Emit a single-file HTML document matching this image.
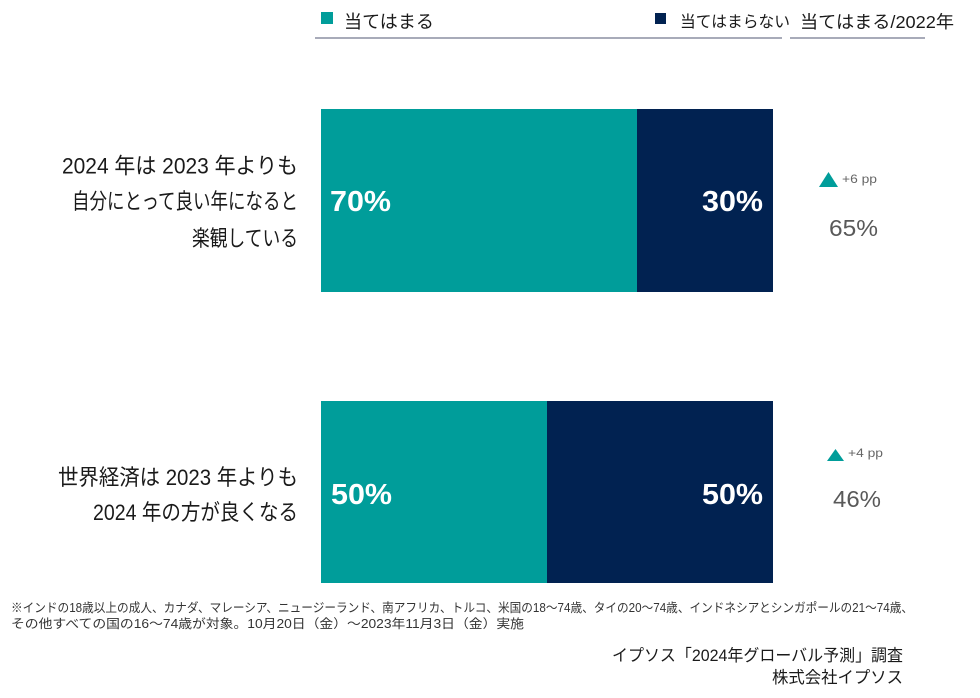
<!DOCTYPE html>
<html>
<head>
<meta charset="utf-8">
<style>
  html, body { margin:0; padding:0; background:#ffffff; }
  svg { display:block; }
  text { font-family: "Liberation Sans", "Noto Sans CJK JP", sans-serif; }
</style>
</head>
<body>
<svg width="980" height="698" viewBox="0 0 980 698" xmlns="http://www.w3.org/2000/svg">
  <rect x="0" y="0" width="980" height="698" fill="#ffffff"/>

  <!-- Legend -->
  <rect x="321" y="12" width="12" height="12" fill="#009d9a"/>
  <text x="344" y="28" font-size="18" fill="#1a1a1a" textLength="90" lengthAdjust="spacingAndGlyphs">当てはまる</text>
  <rect x="655" y="13" width="11" height="11" fill="#012251"/>
  <text x="680" y="27" font-size="16" fill="#1a1a1a" textLength="110" lengthAdjust="spacingAndGlyphs">当てはまらない</text>
  <text x="800" y="28" font-size="17.5" fill="#1a1a1a" textLength="154" lengthAdjust="spacingAndGlyphs">当てはまる/2022年</text>
  <line x1="315" y1="38" x2="782" y2="38" stroke="#a8abb9" stroke-width="2"/>
  <line x1="790" y1="38" x2="925" y2="38" stroke="#a8abb9" stroke-width="2"/>

  <!-- Row 1 labels -->
  <text x="62" y="173.5" font-size="22" fill="#1a1a1a" textLength="236" lengthAdjust="spacingAndGlyphs">2024 年は 2023 年よりも</text>
  <text x="72" y="209" font-size="22" fill="#1a1a1a" textLength="226" lengthAdjust="spacingAndGlyphs">自分にとって良い年になると</text>
  <text x="192" y="246" font-size="22" fill="#1a1a1a" textLength="106" lengthAdjust="spacingAndGlyphs">楽観している</text>

  <!-- Row 1 bar -->
  <rect x="321" y="109" width="316" height="183" fill="#009d9a"/>
  <rect x="637" y="109" width="136" height="183" fill="#012251"/>
  <text x="330" y="211" font-size="29" font-weight="bold" fill="#ffffff" textLength="61" lengthAdjust="spacingAndGlyphs">70%</text>
  <text x="702" y="211" font-size="29" font-weight="bold" fill="#ffffff" textLength="61" lengthAdjust="spacingAndGlyphs">30%</text>

  <!-- Row 1 right -->
  <polygon points="819,187 828.5,172 838,187" fill="#009d9a"/>
  <text x="842" y="183" font-size="12" fill="#666666" textLength="35" lengthAdjust="spacingAndGlyphs">+6 pp</text>
  <text x="829" y="236" font-size="23" fill="#595959" textLength="49" lengthAdjust="spacingAndGlyphs">65%</text>

  <!-- Row 2 labels -->
  <text x="58" y="485" font-size="22" fill="#1a1a1a" textLength="240" lengthAdjust="spacingAndGlyphs">世界経済は 2023 年よりも</text>
  <text x="93" y="520" font-size="22" fill="#1a1a1a" textLength="205" lengthAdjust="spacingAndGlyphs">2024 年の方が良くなる</text>

  <!-- Row 2 bar -->
  <rect x="321" y="401" width="226" height="182" fill="#009d9a"/>
  <rect x="547" y="401" width="226" height="182" fill="#012251"/>
  <text x="331" y="504" font-size="29" font-weight="bold" fill="#ffffff" textLength="61" lengthAdjust="spacingAndGlyphs">50%</text>
  <text x="702" y="504" font-size="29" font-weight="bold" fill="#ffffff" textLength="61" lengthAdjust="spacingAndGlyphs">50%</text>

  <!-- Row 2 right -->
  <polygon points="827,461 835.5,449 844,461" fill="#009d9a"/>
  <text x="848" y="457" font-size="12" fill="#666666" textLength="35" lengthAdjust="spacingAndGlyphs">+4 pp</text>
  <text x="833" y="507" font-size="23" fill="#595959" textLength="48" lengthAdjust="spacingAndGlyphs">46%</text>

  <!-- Footnote -->
  <text x="11" y="612" font-size="12.5" fill="#333333" textLength="902" lengthAdjust="spacingAndGlyphs">※インドの18歳以上の成人、カナダ、マレーシア、ニュージーランド、南アフリカ、トルコ、米国の18～74歳、タイの20～74歳、インドネシアとシンガポールの21～74歳、</text>
  <text x="11" y="628" font-size="12.5" fill="#333333" textLength="513" lengthAdjust="spacingAndGlyphs">その他すべての国の16～74歳が対象。10月20日（金）～2023年11月3日（金）実施</text>

  <text x="612" y="661" font-size="16.5" fill="#1a1a1a" textLength="291" lengthAdjust="spacingAndGlyphs">イプソス「2024年グローバル予測」調査</text>
  <text x="772" y="683" font-size="16.5" fill="#1a1a1a" textLength="131" lengthAdjust="spacingAndGlyphs">株式会社イプソス</text>
</svg>
</body>
</html>
